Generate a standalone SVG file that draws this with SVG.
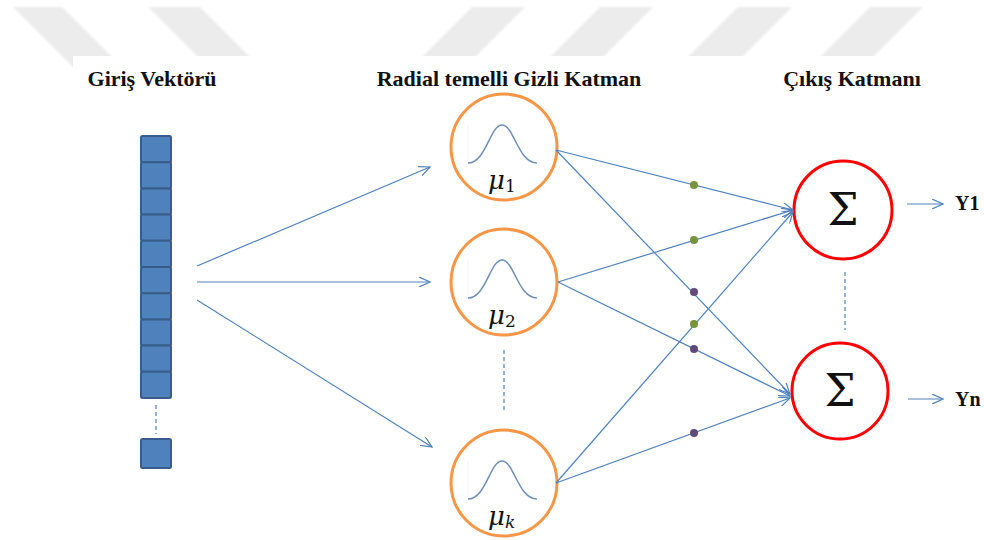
<svg xmlns="http://www.w3.org/2000/svg" width="984" height="540" viewBox="0 0 984 540">
  <defs>
    <style>
      .title { font-family: "Liberation Serif", "Times New Roman", serif; font-weight: bold; font-size: 22px; fill: #111; text-anchor: middle; }
      .out { font-family: "Liberation Serif", "Times New Roman", serif; font-weight: bold; font-size: 20px; fill: #111; }
      .cell { fill: #4f81bd; stroke: #385d8a; stroke-width: 2; }
      .rbf { fill: #fff; stroke: #f79646; stroke-width: 3; }
      .sum { fill: #fff; stroke: #ff0000; stroke-width: 3; }
      .bell { fill: none; stroke: #6f8fb8; stroke-width: 1.5; }
      .axis { stroke: #f1f3f6; stroke-width: 1; }
      .mu { font-family: "DejaVu Serif", "Liberation Serif", serif; font-style: italic; font-size: 26px; fill: #111; }
      .sub { font-family: "DejaVu Serif", "Liberation Serif", serif; font-style: normal; font-size: 17px; fill: #111; }
      .subi { font-style: italic; }
      .sigma { font-family: "DejaVu Serif", "Liberation Serif", serif; font-size: 44px; fill: #111; text-anchor: middle; }
      .link { stroke: #4f81bd; stroke-width: 1.2; fill: none; }
      .arrow { marker-end: url(#open); }
      .dash { stroke: #4f81bd; stroke-width: 1.2; stroke-dasharray: 4 3; }
      .wm { fill: #ececec; }
    </style>
    <marker id="open" viewBox="0 0 12 10" refX="11" refY="5" markerWidth="12" markerHeight="10" markerUnits="userSpaceOnUse" orient="auto">
      <path d="M0,0 L11,5 L0,10" fill="none" stroke="#4f81bd" stroke-width="1.2"/>
    </marker>
    <filter id="soft" x="-10%" y="-10%" width="120%" height="120%">
      <feGaussianBlur stdDeviation="1.2"/>
    </filter>
    <!-- Gaussian bump drawn around its own centre -->
    <path id="bump" class="bell" d="M-36,16 C-18,16 -14,-22 -2,-22 C10,-22 14,16 33,16"/>
  </defs>

  <rect width="984" height="540" fill="#fff"/>

  <!-- faint striped band along the top edge -->
  <g id="watermark" filter="url(#soft)">
    <polygon class="wm" points="13,7 62,7 125,70 76,70"/>
    <polygon class="wm" points="148,7 200,7 263,70 211,70"/>
    <polygon class="wm" points="472,7 525,7 462,70 409,70"/>
    <polygon class="wm" points="600,7 653,7 590,70 537,70"/>
    <polygon class="wm" points="738,7 792,7 729,70 675,70"/>
    <polygon class="wm" points="870,7 923,7 860,70 807,70"/>
  </g>
  <rect x="73" y="56" width="911" height="484" fill="#fff"/>

  <!-- column headings -->
  <g id="titles">
    <text class="title" x="152" y="86">Giriş Vektörü</text>
    <text class="title" x="509" y="86">Radial temelli Gizli Katman</text>
    <text class="title" x="852" y="86">Çıkış Katmanı</text>
  </g>

  <!-- input vector -->
  <g id="input">
    <rect class="cell" x="141" y="136" width="30" height="26.2" rx="1.5"/>
    <rect class="cell" x="141" y="162.2" width="30" height="26.2" rx="1.5"/>
    <rect class="cell" x="141" y="188.4" width="30" height="26.2" rx="1.5"/>
    <rect class="cell" x="141" y="214.6" width="30" height="26.2" rx="1.5"/>
    <rect class="cell" x="141" y="240.8" width="30" height="26.2" rx="1.5"/>
    <rect class="cell" x="141" y="267" width="30" height="26.2" rx="1.5"/>
    <rect class="cell" x="141" y="293.2" width="30" height="26.2" rx="1.5"/>
    <rect class="cell" x="141" y="319.4" width="30" height="26.2" rx="1.5"/>
    <rect class="cell" x="141" y="345.6" width="30" height="26.2" rx="1.5"/>
    <rect class="cell" x="141" y="371.8" width="30" height="26.2" rx="1.5"/>
    <line class="dash" x1="156" y1="405" x2="156" y2="434"/>
    <rect class="cell" x="141" y="439" width="30" height="29" rx="1.5"/>
  </g>

  <!-- hidden layer nodes -->
  <g id="rbf1">
    <circle class="rbf" cx="504" cy="147" r="53"/>
    <line class="axis" x1="468" y1="125" x2="468" y2="163"/>
    <use href="#bump" x="504" y="147"/>
    <text class="mu" x="488" y="189">μ<tspan class="sub" dy="3">1</tspan></text>
  </g>
  <g id="rbf2">
    <circle class="rbf" cx="504" cy="282" r="53"/>
    <line class="axis" x1="468" y1="260" x2="468" y2="298"/>
    <use href="#bump" x="504" y="282"/>
    <text class="mu" x="488" y="324">μ<tspan class="sub" dy="3">2</tspan></text>
  </g>
  <g id="rbfk">
    <circle class="rbf" cx="504" cy="483" r="53"/>
    <line class="axis" x1="468" y1="461" x2="468" y2="499"/>
    <use href="#bump" x="504" y="483"/>
    <text class="mu" x="488" y="525">μ<tspan class="sub subi" dy="3">k</tspan></text>
  </g>

  <!-- output nodes -->
  <g id="sum1">
    <circle class="sum" cx="843" cy="210" r="49"/>
    <text class="sigma" x="843" y="225">Σ</text>
  </g>
  <g id="sumn">
    <circle class="sum" cx="840" cy="391" r="48"/>
    <text class="sigma" x="840" y="406">Σ</text>
  </g>

  <!-- outputs -->
  <g id="outputs">
    <text class="out" x="955" y="210">Y1</text>
    <text class="out" x="955" y="406">Yn</text>
  </g>

  <!-- connectors -->
  <g id="connectors">
    <line class="link arrow" x1="197" y1="266" x2="430" y2="167"/>
    <line class="link arrow" x1="197" y1="282" x2="430" y2="282"/>
    <line class="link arrow" x1="197" y1="300" x2="432" y2="447"/>

    <line class="link arrow" x1="556" y1="150" x2="793" y2="210"/>
    <line class="link arrow" x1="556" y1="150" x2="790" y2="394"/>
    <line class="link arrow" x1="558" y1="282" x2="793" y2="210"/>
    <line class="link arrow" x1="558" y1="282" x2="790" y2="396"/>
    <line class="link arrow" x1="556" y1="483" x2="793" y2="212"/>
    <line class="link arrow" x1="556" y1="483" x2="790" y2="398"/>

    <line class="link arrow" x1="907" y1="204" x2="943" y2="204"/>
    <line class="link arrow" x1="908" y1="399" x2="943" y2="399"/>

    <line class="dash" x1="504" y1="350" x2="504" y2="410"/>
    <line class="dash" x1="845" y1="272" x2="845" y2="330"/>

    <!-- weight points -->
    <circle cx="694" cy="185" r="4" fill="#77933c"/>
    <circle cx="694" cy="240" r="4" fill="#77933c"/>
    <circle cx="694" cy="324" r="4" fill="#77933c"/>
    <circle cx="694" cy="292" r="4" fill="#604a7b"/>
    <circle cx="694" cy="349" r="4" fill="#604a7b"/>
    <circle cx="694" cy="433" r="4" fill="#604a7b"/>
  </g>
</svg>
